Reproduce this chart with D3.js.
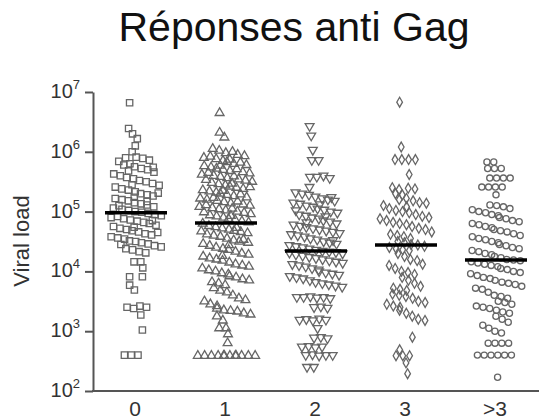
<!DOCTYPE html>
<html lang="fr">
<head>
<meta charset="utf-8">
<title>Réponses anti Gag</title>
<script src="https://cdn.jsdelivr.net/npm/d3@7"></script>
<style>
  body { margin: 0; background: #fff; }
  text { font-family: "Liberation Sans", Arial, sans-serif; }
</style>
</head>
<body>
<svg id="chart" width="539" height="419"></svg>
<script>
// categories = number of Gag responses, values = log10 viral load per patient
var categories = ["0", "1", "2", "3", ">3"];
var yTickExp = [2, 3, 4, 5, 6, 7];

var logVL0 = [6.82, 6.39, 6.3, 6.22, 6.1, 6.0,
  5.91, 5.89, 5.86, 5.84, 5.9, 5.78, 5.8, 5.75, 5.72, 5.7, 5.74, 5.66, 5.63, 5.6, 5.68, 5.57, 5.55,
  5.52, 5.5, 5.47, 5.44, 5.41, 5.45, 5.38, 5.36, 5.33, 5.3, 5.28, 5.26, 5.31, 5.22, 5.2, 5.18, 5.24,
  5.15, 5.13, 5.17, 5.11, 5.08, 5.06, 5.1, 5.04, 5.02, 5.0, 4.99,
  4.97, 4.95, 4.93, 4.9, 4.92, 4.88, 4.86, 4.84, 4.82, 4.8, 4.85, 4.77, 4.75, 4.72, 4.7, 4.74, 4.68,
  4.66, 4.63, 4.61, 4.65, 4.58, 4.56, 4.54, 4.51, 4.5, 4.48, 4.46, 4.43, 4.41, 4.45, 4.38, 4.36, 4.33, 4.31,
  4.16, 4.16, 4.06, 3.91, 3.91, 3.77, 3.69, 3.4, 3.38, 3.42, 3.4, 3.27, 3.02, 2.6, 2.6, 2.6];

var logVL1 = [6.65, 6.32, 6.24,
  6.05, 6.02, 5.98, 6.0, 5.95, 5.93, 5.9, 5.92, 5.88, 5.85, 5.87, 5.83, 5.8, 5.82, 5.78, 5.76, 5.74,
  5.77, 5.72, 5.7, 5.68, 5.71, 5.66, 5.64, 5.62, 5.65, 5.6, 5.58, 5.56, 5.59, 5.54, 5.52, 5.5, 5.53,
  5.48, 5.46, 5.44, 5.47, 5.42, 5.4, 5.38, 5.41, 5.36, 5.34, 5.32, 5.35, 5.3, 5.28, 5.26, 5.29, 5.24,
  5.22, 5.2, 5.23, 5.18, 5.16, 5.14, 5.17, 5.12, 5.1, 5.08, 5.11, 5.06, 5.04, 5.02, 5.05, 5.0, 4.98,
  4.96, 4.99, 4.94, 4.92, 4.9, 4.93, 4.88, 4.86, 4.84, 4.82, 4.8,
  4.76, 4.74, 4.72, 4.7, 4.73, 4.68, 4.66, 4.64, 4.67, 4.62, 4.6, 4.58, 4.55, 4.52, 4.5, 4.53, 4.48,
  4.46, 4.43, 4.4, 4.44, 4.38, 4.36, 4.33, 4.3, 4.28, 4.25, 4.22, 4.26, 4.2, 4.18, 4.15, 4.12, 4.1,
  4.08, 4.05, 4.02, 4.0, 3.97, 3.95, 3.92, 3.9, 3.87, 3.85, 3.82, 3.8, 3.77, 3.72, 3.68, 3.65, 3.6,
  3.55, 3.52, 3.5, 3.45, 3.42, 3.38, 3.35, 3.34, 3.33, 3.3, 3.28, 3.25, 3.18, 3.05, 3.05, 2.95, 2.8,
  2.59, 2.59, 2.59, 2.59, 2.59, 2.59, 2.59, 2.59, 2.59, 2.59, 2.59, 2.59];

var logVL2 = [6.43, 6.27, 6.03, 5.86, 5.86, 5.58, 5.58, 5.6, 5.56, 5.41,
  5.32, 5.3, 5.28, 5.25, 5.22, 5.2, 5.24, 5.18, 5.15, 5.13, 5.1, 5.08, 5.12, 5.05, 5.03, 5.0, 4.98,
  5.02, 4.95, 4.93, 4.9, 4.88, 4.92, 4.85, 4.83, 4.8, 4.78, 4.82, 4.76, 4.74, 4.72, 4.7, 4.68, 4.66,
  4.64, 4.62, 4.6, 4.58, 4.55, 4.53, 4.5, 4.48, 4.52, 4.46, 4.44, 4.42, 4.4, 4.38, 4.36,
  4.34, 4.33, 4.32, 4.3, 4.31, 4.28, 4.26, 4.24, 4.22, 4.2, 4.18, 4.16, 4.14, 4.12, 4.1, 4.08, 4.05,
  4.03, 4.0, 3.98, 3.96, 3.94, 3.92, 3.9, 3.88, 3.85, 3.82, 3.8, 3.78, 3.76, 3.74,
  3.57, 3.57, 3.58, 3.56, 3.57, 3.55, 3.4, 3.41, 3.39, 3.19, 3.2, 3.18, 3.21, 3.19, 3.05,
  2.89, 2.9, 2.88, 2.74, 2.75, 2.73, 2.74, 2.6, 2.61, 2.59, 2.6, 2.6, 2.4, 2.4];

var logVL3 = [6.83, 6.08, 5.87, 5.87, 5.87, 5.87, 5.62,
  5.39, 5.38, 5.4, 5.37, 5.3, 5.28, 5.2, 5.22, 5.18, 5.15, 5.14, 5.1, 5.05, 5.08, 5.02, 5.0, 4.98,
  4.95, 4.92, 4.9, 4.88, 4.85, 4.82, 4.8, 4.78, 4.75, 4.72, 4.7, 4.66, 4.62, 4.6, 4.58, 4.55, 4.5,
  4.48, 4.45, 4.44,
  4.42, 4.4, 4.38, 4.36, 4.35, 4.3, 4.25, 4.2, 4.18, 4.12, 4.1, 4.05, 4.0, 3.98, 3.95, 3.9, 3.85,
  3.8, 3.75, 3.72, 3.7, 3.68, 3.62, 3.6, 3.58, 3.55, 3.5, 3.48, 3.45, 3.42, 3.4, 3.35, 3.3, 3.25,
  3.2, 3.18, 2.9, 2.69, 2.59, 2.59, 2.59, 2.47, 2.29];

var logVL4 = [5.83, 5.83, 5.72, 5.72, 5.72, 5.56, 5.56, 5.56, 5.56, 5.41, 5.41, 5.41, 5.41, 5.28,
  5.11, 5.1, 5.08, 5.05, 5.03, 5.0, 4.98, 4.95, 4.93, 4.9, 4.88, 4.85, 4.83, 4.8, 4.78, 4.75, 4.73,
  4.7, 4.68, 4.66, 4.63, 4.6, 4.58, 4.55, 4.53, 4.5, 4.48, 4.45, 4.43, 4.4, 4.38, 4.35, 4.33, 4.3,
  4.28, 4.25, 4.23, 4.2, 4.19, 4.18,
  4.16, 4.14, 4.12, 4.1, 4.08, 4.05, 4.03, 4.0, 3.98, 3.96, 3.93, 3.9, 3.88, 3.85, 3.82, 3.8, 3.78,
  3.75, 3.72, 3.7, 3.65, 3.6, 3.58, 3.55, 3.5, 3.48, 3.45, 3.42, 3.4, 3.38, 3.35, 3.32, 3.3, 3.25,
  3.2, 3.15, 3.1, 3.05, 3.0, 2.97, 2.8, 2.8, 2.8, 2.8, 2.6, 2.6, 2.6, 2.6, 2.6, 2.6, 2.23];

var groups = [logVL0, logVL1, logVL2, logVL3, logVL4];

var svg = d3.select("#chart");
var axisColor = "#555";

var x = d3.scalePoint().domain(categories).range([136, 496]);
var y = d3.scaleLog().domain([1e2, 1e7]).range([391, 92]);

// title
svg.append("text")
  .attr("x", 294).attr("y", 41)
  .attr("text-anchor", "middle")
  .attr("font-size", 41)
  .attr("fill", "#111")
  .text("Réponses anti Gag");

// y axis
var yAxis = d3.axisLeft(y)
  .tickValues(yTickExp.map(function(e) { return Math.pow(10, e); }))
  .tickSize(8)
  .tickSizeOuter(0)
  .tickFormat("");
var yg = svg.append("g").attr("transform", "translate(93,0)").call(yAxis);
yg.selectAll("path, line").attr("stroke", axisColor).attr("stroke-width", 2);

var lab = svg.append("g").selectAll("text").data(yTickExp).enter().append("text")
  .attr("x", 80)
  .attr("y", function(e) { return y(Math.pow(10, e)) + 6; })
  .attr("text-anchor", "end")
  .attr("font-size", 20)
  .attr("fill", "#333");
lab.append("tspan").text("10");
lab.append("tspan").attr("dy", -9).attr("font-size", 13).text(function(e) { return e; });

svg.append("text")
  .attr("transform", "translate(29,241) rotate(-90)")
  .attr("text-anchor", "middle")
  .attr("font-size", 22)
  .attr("fill", "#333")
  .text("Viral load");

// x axis
svg.append("line")
  .attr("x1", 92).attr("x2", 539)
  .attr("y1", 391).attr("y2", 391)
  .attr("stroke", axisColor).attr("stroke-width", 2);

svg.append("g").selectAll("text").data(categories).enter().append("text")
  .attr("x", function(d) { return x(d) - 1; })
  .attr("y", 416)
  .attr("text-anchor", "middle")
  .attr("font-size", 21)
  .attr("fill", "#333")
  .text(function(d) { return d; });

// marker shapes per group
var symbols = [
  d3.symbol().type(d3.symbolSquare).size(40),
  d3.symbol().type(d3.symbolTriangle).size(34),
  d3.symbol().type(d3.symbolTriangle).size(34),
  d3.symbol().type(d3.symbolDiamond).size(28),
  d3.symbol().type(d3.symbolCircle).size(30)
];
var rotations = [0, 0, 180, 0, 0];
var halfWidth = 30;

groups.forEach(function(vals, gi) {
  var cx = x(categories[gi]);
  var nodes = vals.map(function(v, i) {
    var ty = y(Math.pow(10, v));
    return { v: v, ty: ty, x: cx + ((i % 9) - 4) * 6, y: ty };
  });

  var sim = d3.forceSimulation(nodes)
    .force("x", d3.forceX(cx).strength(0.02))
    .force("y", d3.forceY(function(d) { return d.ty; }).strength(0.9))
    .force("collide", d3.forceCollide(3.4).strength(0.8))
    .stop();
  for (var k = 0; k < 260; k++) {
    sim.tick();
    nodes.forEach(function(d) {
      d.x = Math.max(cx - halfWidth, Math.min(cx + halfWidth, d.x));
    });
  }

  svg.append("g").selectAll("path").data(nodes).enter().append("path")
    .attr("d", symbols[gi])
    .attr("transform", function(d) {
      return "translate(" + d.x + "," + d.ty + ") rotate(" + rotations[gi] + ")";
    })
    .attr("fill", "none")
    .attr("stroke", "#666")
    .attr("stroke-width", 1.3);

  var med = d3.median(vals);
  svg.append("line")
    .attr("x1", cx - 31).attr("x2", cx + 31)
    .attr("y1", y(Math.pow(10, med))).attr("y2", y(Math.pow(10, med)))
    .attr("stroke", "#000").attr("stroke-width", 3.5);
});
</script>
</body>
</html>
